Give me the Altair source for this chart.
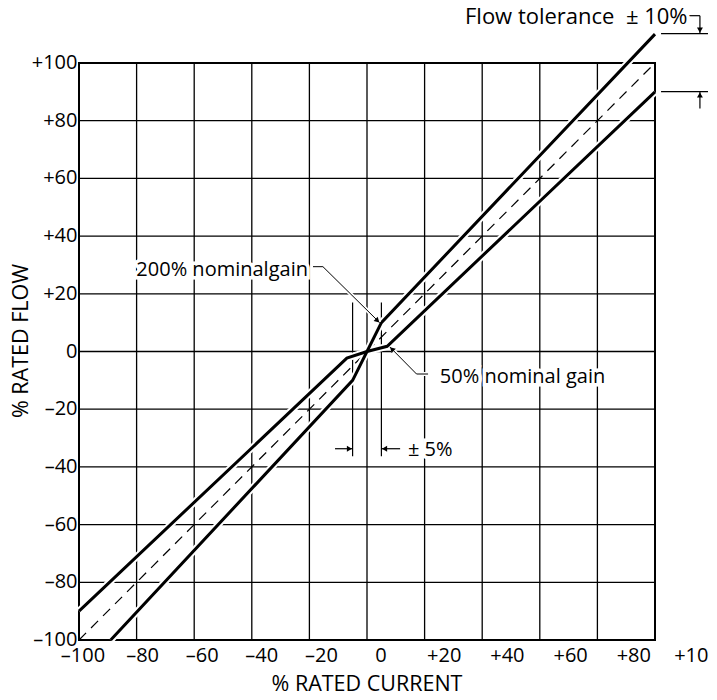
import altair as alt
import pandas as pd

# ---------------- data ----------------
tick_values = [-100, -80, -60, -40, -20, 0, 20, 40, 60, 80, 100]
tick_labels = ["–100", "–80", "–60", "–40", "–20", "0", "+20", "+40", "+60", "+80", "+100"]
x_title = "% RATED CURRENT"
y_title = "% RATED FLOW"

# nominal gain (dashed)
nominal_x = [-100, 100]
nominal_y = [-100, 100]
# +10% tolerance branch with 200% nominal gain near null
high_x = [-89, -5, 0, 5, 100]
high_y = [-100, -10, 0, 10, 110]
# -10% tolerance branch with 50% nominal gain near null
low_x = [-100, -7, 0, 7, 100]
low_y = [-90, -2.3, 0, 1.8, 90]

# annotation texts (in data units of the chart)
ann_text = ["200% nominalgain", "50% nominal gain", "± 5%", "Flow tolerance\u00a0 ± 10%"]
ann_x = [-20.5, 25.3, 14.2, 111.3]
ann_y = [28.3, -8.9, -34.1, 115.9]
ann_align = ["right", "left", "left", "right"]
ann_size = [20, 20, 20, 22]

# leader / dimension segments
seg_x1 = [-18.75, -15.3, 7.9, 17.2, -5, 5, -11.1, 11.5, 111.5, 115.6, 102.1, 102.1, 115.6]
seg_y1 = [29.4, 29.4, 1.6, -7.8, 17, 17, -33.7, -33.7, 116.4, 116.4, 110.2, 90.1, 84.2]
seg_x2 = [-15.3, 4.4, 17.2, 21.2, -5, 5, -5, 5, 115.6, 115.6, 118.4, 118.4, 115.6]
seg_y2 = [29.4, 10.0, -7.8, -7.8, -36.3, -36.3, -33.7, -33.7, 116.4, 110.3, 110.2, 90.1, 90.0]
seg_leader = [True, True, True, True, False, False, False, False, False, False, False, False, False]

# arrowheads
arr_x = [3.65, 8.65, -6.1, 6.1, 115.6, 115.6]
arr_y = [10.7, 0.85, -33.7, -33.7, 111.4, 88.9]
arr_shape = ["triangle-right", "triangle-left", "triangle-right", "triangle-left", "triangle-down", "triangle-up"]
arr_angle = [43.5, 45.6, 0, 0, 0, 0]

# ---------------- tables ----------------
lines_df = pd.DataFrame({
    "x": nominal_x + high_x + low_x,
    "y": nominal_y + high_y + low_y,
    "series": ["nominal"] * len(nominal_x) + ["high"] * len(high_x) + ["low"] * len(low_x),
    "order": list(range(len(nominal_x))) + list(range(len(high_x))) + list(range(len(low_x))),
})
ann_df = pd.DataFrame({"x": ann_x, "y": ann_y, "text": ann_text, "align": ann_align, "size": ann_size})
seg_df = pd.DataFrame({"x": seg_x1, "y": seg_y1, "x2": seg_x2, "y2": seg_y2, "leader": seg_leader})
arr_df = pd.DataFrame({"x": arr_x, "y": arr_y, "shape": arr_shape, "angle": arr_angle})
tick_df = pd.DataFrame({"v": tick_values, "label": tick_labels})
title_df = pd.DataFrame({"which": ["x", "y"], "text": [x_title, y_title]})

W, H = 576, 577
FONT = "Open Sans"

xs = alt.Scale(domain=[-100, 100], nice=False, zero=False)
ys = alt.Scale(domain=[-100, 100], nice=False, zero=False)


def X(field="x"):
    return alt.X(f"{field}:Q", scale=xs, axis=None)


def Y(field="y"):
    return alt.Y(f"{field}:Q", scale=ys, axis=None)


# grid
grid_v = alt.Chart(tick_df).mark_rule(color="black", strokeWidth=1.3).encode(
    x=X("v"), y=alt.value(0), y2=alt.value(H))
grid_h = alt.Chart(tick_df).mark_rule(color="black", strokeWidth=1.3).encode(
    y=Y("v"), x=alt.value(0), x2=alt.value(W))

# y tick labels (on the grid lines)
ylabels = alt.Chart(tick_df).mark_text(font=FONT, fontSize=20, color="black", align="right",
                                       baseline="middle").encode(
    y=Y("v"), x=alt.value(-1.5), text="label:N")

# x tick labels: the printed labels drift right of the grid lines, so they are placed
# through a piecewise mapping (label value -> position in grid units)
xlabels = alt.Chart(tick_df).transform_calculate(
    pos="datum.v <= 0 ? (4 + (datum.v + 100) * 2.98) / 2.88 - 100 : (302 + 3.16 * datum.v) / 2.88 - 100"
).mark_text(font=FONT, fontSize=20, color="black", align="center", baseline="middle").encode(
    x=X("pos"), y=alt.value(H + 15.5), text="label:N")

xtitle = alt.Chart(title_df).transform_filter("datum.which == 'x'").mark_text(
    font=FONT, fontSize=21.5, color="black", align="center", baseline="middle").encode(
    x=alt.value(W / 2), y=alt.value(H + 45), text="text:N")
ytitle = alt.Chart(title_df).transform_filter("datum.which == 'y'").mark_text(
    font=FONT, fontSize=21.5, color="black", align="center", baseline="middle", angle=270).encode(
    x=alt.value(-57), y=alt.value(278), text="text:N")

base_lines = alt.Chart(lines_df)
dashed = base_lines.transform_filter("datum.series == 'nominal'").mark_line(
    color="black", strokeWidth=1.2, strokeDash=[10, 7]
).encode(x=X(), y=Y(), order="order:Q")

solid_filter = "datum.series != 'nominal'"
casing = base_lines.transform_filter(solid_filter).mark_line(color="white", strokeWidth=7).encode(
    x=X(), y=Y(), detail="series:N", order="order:Q")
solid = base_lines.transform_filter(solid_filter).mark_line(color="black", strokeWidth=3).encode(
    x=X(), y=Y(), detail="series:N", order="order:Q")

dims = alt.Chart(seg_df).transform_filter("!datum.leader").mark_rule(color="black", strokeWidth=1.2).encode(
    x=X(), y=Y(), x2="x2:Q", y2="y2:Q")
lead_case = alt.Chart(seg_df).transform_filter("datum.leader").mark_rule(color="white", strokeWidth=4).encode(
    x=X(), y=Y(), x2="x2:Q", y2="y2:Q")
lead = alt.Chart(seg_df).transform_filter("datum.leader").mark_rule(color="black", strokeWidth=1).encode(
    x=X(), y=Y(), x2="x2:Q", y2="y2:Q")

arrows = alt.Chart(arr_df).mark_point(filled=True, color="black", opacity=1, size=35).encode(
    x=X(), y=Y(),
    shape=alt.Shape("shape:N", scale=None), angle=alt.Angle("angle:Q", scale=None))


def text_layer(align, halo):
    kw = dict(font=FONT, align=align, baseline="middle")
    if halo:
        kw.update(stroke="white", strokeWidth=7, color="white")
    else:
        kw.update(color="black")
    return alt.Chart(ann_df).transform_filter(f"datum.align == '{align}'").mark_text(**kw).encode(
        x=X(), y=Y(), text="text:N", size=alt.Size("size:Q", scale=None))


chart = alt.layer(
    grid_v, grid_h, dashed, dims, casing, solid, lead_case, lead, arrows,
    text_layer("left", True), text_layer("right", True),
    text_layer("left", False), text_layer("right", False),
    ylabels, xlabels, xtitle, ytitle,
).properties(
    width=W, height=H,
    autosize=alt.AutoSizeParams(type="none"),
    padding={"left": 71, "top": 55, "right": 54, "bottom": 52},
).configure(font=FONT).configure_view(stroke="black", strokeWidth=2)

chart.save("out.html", embed_options={"renderer": "svg", "actions": False})
